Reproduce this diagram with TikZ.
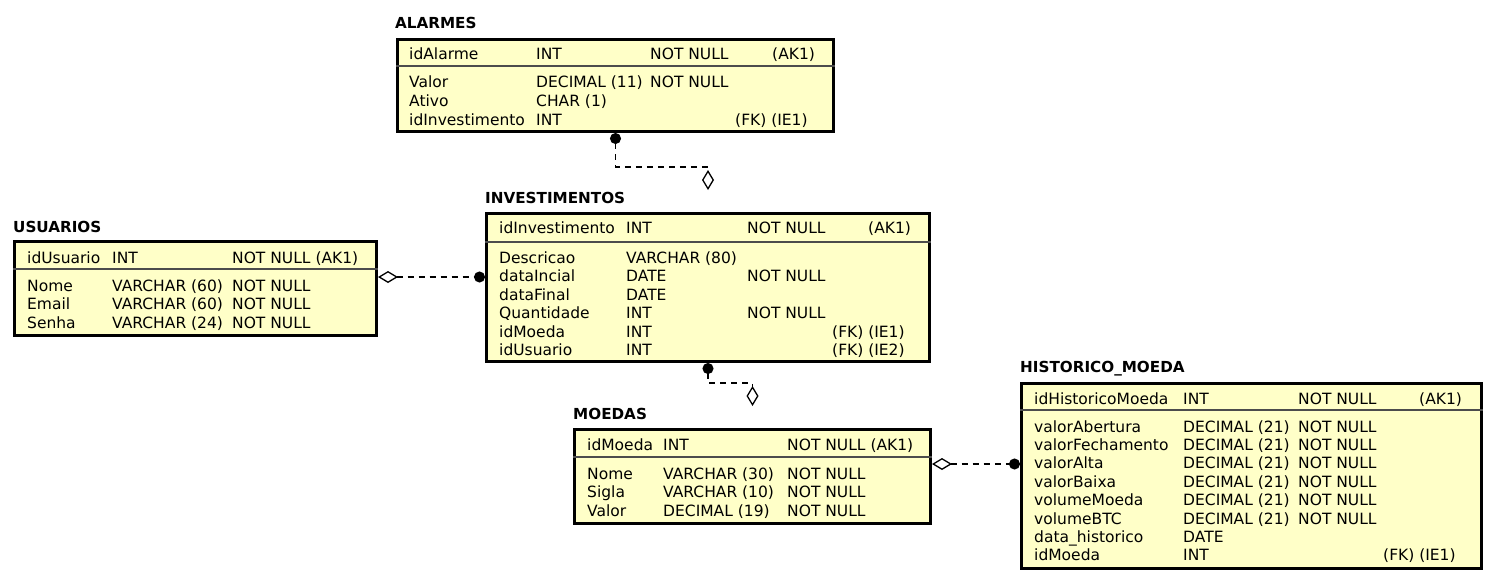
\documentclass[tikz,border=0pt]{standalone}
\usepackage{fontspec}
\setmainfont{DejaVu Sans}
\usetikzlibrary{arrows.meta}
\definecolor{entfill}{RGB}{255,255,200}
\newcommand{\cellat}[4]{\node[cell] (#1) at (#2,#3) {#4};}
\begin{document}
\begin{tikzpicture}[x=1pt,y=-1pt,
  ent/.style={draw=black, fill=entfill, line width=3pt, anchor=north west, inner sep=0pt, rectangle},
  etitle/.style={anchor=base west, inner sep=0pt, font=\fontsize{15.2}{18}\selectfont\bfseries},
  cell/.style={anchor=base west, inner sep=0pt, font=\fontsize{15.5}{18}\selectfont},
  sepline/.style={draw=black!70, line width=1.2pt},
  rel/.style={line width=1.3pt, dash pattern=on 6pt off 5pt},
  dotdia/.style={{Circle[length=11pt]}-{Diamond[open,length=20pt,width=12pt]}},
  diadot/.style={{Diamond[open,length=20pt,width=12pt]}-{Circle[length=11pt]}}
]
\useasboundingbox (0,0) rectangle (1496,584);

% ---------------- ALARMES ----------------
\node[etitle] (alarmesT) at (395,28) {ALARMES};
\node[ent, minimum width=436pt, minimum height=92pt] (alarmes) at (396,38) {};
\draw[sepline] (alarmes.west |- 0,66) -- (alarmes.east |- 0,66);
\cellat{a0n}{409}{59}{idAlarme}
\cellat{a0t}{536}{59}{INT}
\cellat{a0c}{650}{59}{NOT NULL}
\cellat{a0k}{772}{59}{(AK1)}
\cellat{a1n}{409}{87}{Valor}
\cellat{a1t}{536}{87}{DECIMAL (11)}
\cellat{a1c}{650}{87}{NOT NULL}
\cellat{a2n}{409}{106}{Ativo}
\cellat{a2t}{536}{106}{CHAR (1)}
\cellat{a3n}{409}{125}{idInvestimento}
\cellat{a3t}{536}{125}{INT}
\cellat{a3k}{735}{125}{(FK) (IE1)}

% ---------------- USUARIOS ----------------
\node[etitle] (usuariosT) at (13,232) {USUARIOS};
\node[ent, minimum width=362pt, minimum height=94pt] (usuarios) at (13,240) {};
\draw[sepline] (usuarios.west |- 0,269) -- (usuarios.east |- 0,269);
\cellat{u0n}{27}{263}{idUsuario}
\cellat{u0t}{112}{263}{INT}
\cellat{u0c}{232}{263}{NOT NULL (AK1)}
\cellat{u1n}{27}{291}{Nome}
\cellat{u1t}{112}{291}{VARCHAR (60)}
\cellat{u1c}{232}{291}{NOT NULL}
\cellat{u2n}{27}{309.5}{Email}
\cellat{u2t}{112}{309.5}{VARCHAR (60)}
\cellat{u2c}{232}{309.5}{NOT NULL}
\cellat{u3n}{27}{328}{Senha}
\cellat{u3t}{112}{328}{VARCHAR (24)}
\cellat{u3c}{232}{328}{NOT NULL}

% ---------------- INVESTIMENTOS ----------------
\node[etitle] (investT) at (485,203) {INVESTIMENTOS};
\node[ent, minimum width=443pt, minimum height=148pt] (invest) at (485,212) {};
\draw[sepline] (invest.west |- 0,242) -- (invest.east |- 0,242);
\cellat{i0n}{499}{233}{idInvestimento}
\cellat{i0t}{626}{233}{INT}
\cellat{i0c}{747}{233}{NOT NULL}
\cellat{i0k}{868}{233}{(AK1)}
\cellat{i1n}{499}{263}{Descricao}
\cellat{i1t}{626}{263}{VARCHAR (80)}
\cellat{i2n}{499}{281.5}{dataIncial}
\cellat{i2t}{626}{281.5}{DATE}
\cellat{i2c}{747}{281.5}{NOT NULL}
\cellat{i3n}{499}{300}{dataFinal}
\cellat{i3t}{626}{300}{DATE}
\cellat{i4n}{499}{318.5}{Quantidade}
\cellat{i4t}{626}{318.5}{INT}
\cellat{i4c}{747}{318.5}{NOT NULL}
\cellat{i5n}{499}{337}{idMoeda}
\cellat{i5t}{626}{337}{INT}
\cellat{i5k}{832}{337}{(FK) (IE1)}
\cellat{i6n}{499}{355.5}{idUsuario}
\cellat{i6t}{626}{355.5}{INT}
\cellat{i6k}{832}{355.5}{(FK) (IE2)}

% ---------------- MOEDAS ----------------
\node[etitle] (moedasT) at (573,419) {MOEDAS};
\node[ent, minimum width=356pt, minimum height=94pt] (moedas) at (573,428) {};
\draw[sepline] (moedas.west |- 0,457) -- (moedas.east |- 0,457);
\cellat{m0n}{587}{450}{idMoeda}
\cellat{m0t}{663}{450}{INT}
\cellat{m0c}{787}{450}{NOT NULL (AK1)}
\cellat{m1n}{587}{479}{Nome}
\cellat{m1t}{663}{479}{VARCHAR (30)}
\cellat{m1c}{787}{479}{NOT NULL}
\cellat{m2n}{587}{497.5}{Sigla}
\cellat{m2t}{663}{497.5}{VARCHAR (10)}
\cellat{m2c}{787}{497.5}{NOT NULL}
\cellat{m3n}{587}{516}{Valor}
\cellat{m3t}{663}{516}{DECIMAL (19)}
\cellat{m3c}{787}{516}{NOT NULL}

% ---------------- HISTORICO_MOEDA ----------------
\node[etitle] (histT) at (1020,372) {HISTORICO\_MOEDA};
\node[ent, minimum width=460pt, minimum height=185pt] (hist) at (1020,382) {};
\draw[sepline] (hist.west |- 0,410) -- (hist.east |- 0,410);
\cellat{h0n}{1034}{404}{idHistoricoMoeda}
\cellat{h0t}{1183}{404}{INT}
\cellat{h0c}{1298}{404}{NOT NULL}
\cellat{h0k}{1419}{404}{(AK1)}
\cellat{h1n}{1034}{432}{valorAbertura}
\cellat{h1t}{1183}{432}{DECIMAL (21)}
\cellat{h1c}{1298}{432}{NOT NULL}
\cellat{h2n}{1034}{450.4}{valorFechamento}
\cellat{h2t}{1183}{450.4}{DECIMAL (21)}
\cellat{h2c}{1298}{450.4}{NOT NULL}
\cellat{h3n}{1034}{468.8}{valorAlta}
\cellat{h3t}{1183}{468.8}{DECIMAL (21)}
\cellat{h3c}{1298}{468.8}{NOT NULL}
\cellat{h4n}{1034}{487.2}{valorBaixa}
\cellat{h4t}{1183}{487.2}{DECIMAL (21)}
\cellat{h4c}{1298}{487.2}{NOT NULL}
\cellat{h5n}{1034}{505.6}{volumeMoeda}
\cellat{h5t}{1183}{505.6}{DECIMAL (21)}
\cellat{h5c}{1298}{505.6}{NOT NULL}
\cellat{h6n}{1034}{524}{volumeBTC}
\cellat{h6t}{1183}{524}{DECIMAL (21)}
\cellat{h6c}{1298}{524}{NOT NULL}
\cellat{h7n}{1034}{542.4}{data\_historico}
\cellat{h7t}{1183}{542.4}{DATE}
\cellat{h8n}{1034}{560.8}{idMoeda}
\cellat{h8t}{1183}{560.8}{INT}
\cellat{h8k}{1383}{560.8}{(FK) (IE1)}

% ---------------- connectors ----------------
\coordinate (aiEnd) at ([yshift=22pt]invest.north);
\coordinate (imEnd) at ([yshift=22pt]moedas.north);
\draw[rel, dotdia] (alarmes.south) -- ++(0,34) -| (aiEnd);
\draw[rel, dotdia] (invest.south) -- ++(0,20) -| (imEnd);
\draw[rel, diadot] (usuarios.east |- 0,277) -- (invest.west |- 0,277);
\draw[rel, diadot] (moedas.east |- 0,464) -- (hist.west |- 0,464);
\end{tikzpicture}
\end{document}
